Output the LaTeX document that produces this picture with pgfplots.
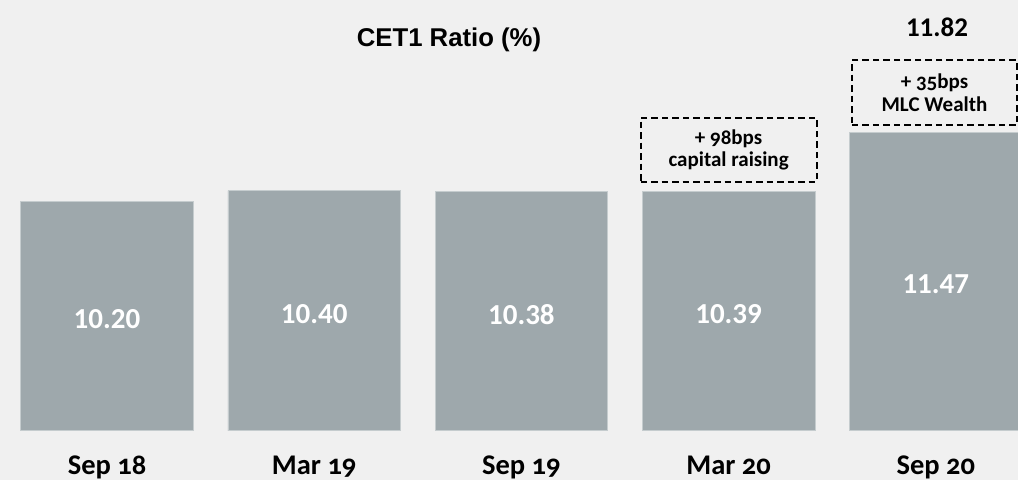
\documentclass[border=0pt]{standalone}
\usepackage{pgfplots}
\pgfplotsset{compat=1.18}
\usepackage{pgfplotstable}
\usepackage{fontspec}
\setmainfont{Carlito}
\newfontfamily\arialfont{Liberation Sans}
\newfontfamily\osfont[Numbers=OldStyle]{Carlito}
\definecolor{bgc}{HTML}{F0F0F0}
\definecolor{barc}{HTML}{9EA8AC}
\definecolor{baredge}{HTML}{C5CCCE}

\pgfplotstableread{
x v lab
0 10.20 10.20
1 10.40 10.40
2 10.38 10.38
3 10.39 10.39
4 11.47 11.47
}\cet

\begin{document}
\begin{tikzpicture}
\fill[bgc] (0pt,-49.3pt) rectangle (1018pt,430.7pt);
\begin{axis}[
  scale only axis,
  width=1018pt, height=430.7pt,
  at={(0pt,0pt)}, anchor=south west,
  xmin=-0.5164, xmax=4.3967,
  ymin=6, ymax=13.888,
  axis line style={draw=none},
  major tick length=0pt,
  ytick=\empty,
  xtick={0,1,2,3,4},
  xticklabels={Sep 18,Mar 19,Sep 19,Mar 20,Sep 20},
  xticklabel style={font=\osfont\bfseries\fontsize{28.5}{28.5}\selectfont, anchor=base, yshift=-43.3pt, text=black},
]
\addplot[ybar, bar width=172.6pt, fill=barc, draw=baredge, line width=0.6pt] table[x=x,y=v]{\cet};
\addplot[draw=none, mark=none, nodes near coords, point meta=explicit symbolic,
  every node near coord/.style={anchor=center, text=white, yshift=-3pt,
  font=\bfseries\fontsize{29}{29}\selectfont}]
  table[x=x, y expr=(\thisrow{v}+6)/2, meta=lab]{\cet};
\node[draw=black, dash pattern=on 6.5pt off 4pt, line width=1.8pt,
  minimum width=176pt, minimum height=64pt, align=center, anchor=south,
  font=\osfont\bfseries\fontsize{21}{22.5}\selectfont, inner sep=0pt]
  at (axis cs:3,10.39) [yshift=8.5pt] {+ 98bps\\capital raising};
\node[draw=black, dash pattern=on 6.5pt off 4pt, line width=1.8pt,
  minimum width=165pt, minimum height=65pt, align=center, anchor=south,
  font=\osfont\bfseries\fontsize{21}{22.5}\selectfont, inner sep=0pt]
  at (axis cs:3.9935,11.47) [yshift=6pt] {+ 35bps\\MLC Wealth};
\end{axis}
\node[anchor=base, font=\arialfont\bfseries\fontsize{25.7}{26}\selectfont] at (449pt,384pt) {CET1 Ratio (\%)};
\node[anchor=base, font=\bfseries\fontsize{27}{27}\selectfont] at (937pt,394pt) {11.82};
\end{tikzpicture}
\end{document}
